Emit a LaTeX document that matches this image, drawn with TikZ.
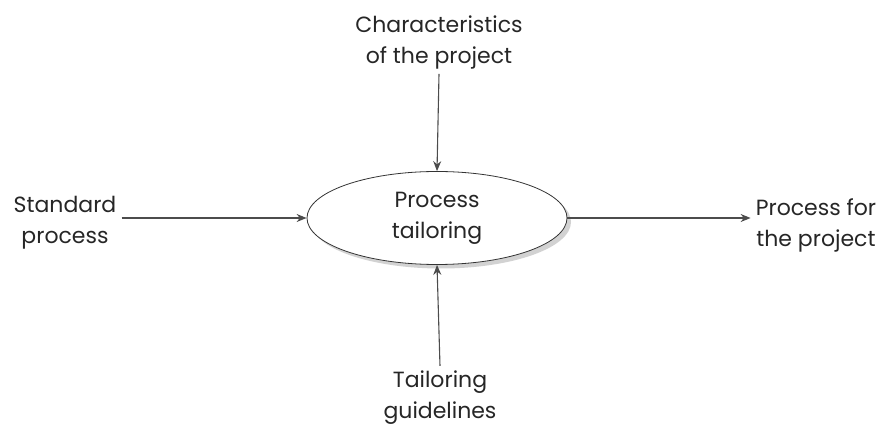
\documentclass[tikz,border=0pt]{standalone}
\usepackage{fontspec}
\setmainfont{Poppins}
\usetikzlibrary{shapes.geometric,shadows,arrows.meta}
\tikzset{
    label text/.style={align=center, font=\fontsize{22}{31}\selectfont, text=black!85, inner sep=5pt},
    flow/.style={-{Stealth[length=10pt,width=8pt]}, line width=1.1pt, black!70}
}
\begin{document}
\begin{tikzpicture}[x=1pt,y=1pt]
        \useasboundingbox (0,0) rectangle (883,426);
        % the process in the middle
        \node[ellipse, draw=black!80, thick, fill=white, minimum width=260pt, minimum height=93pt,
              drop shadow={shadow xshift=4pt, shadow yshift=-4pt, fill=black!35},
              label text, inner sep=0pt] (tailor) at (437,208) {Process\\tailoring};

        % inputs and output
        \node[label text] (charac) at (439,384) {Characteristics\\of the project};
        \node[label text] (standard) at (65,203) {Standard\\process};
        \node[label text] (result) at (816,201) {Process for\\the project};
        \node[label text] (guide) at (440,28) {Tailoring\\guidelines};

        % draw arrows
        \draw[flow] (charac.south) -- (tailor.north);
        \draw[flow] (standard.east |- tailor.west) -- (tailor.west);
        \draw[flow] (tailor.east) -- (tailor.east -| result.west);
        \draw[flow] (guide.north) -- (tailor.south);
\end{tikzpicture}
\end{document}
